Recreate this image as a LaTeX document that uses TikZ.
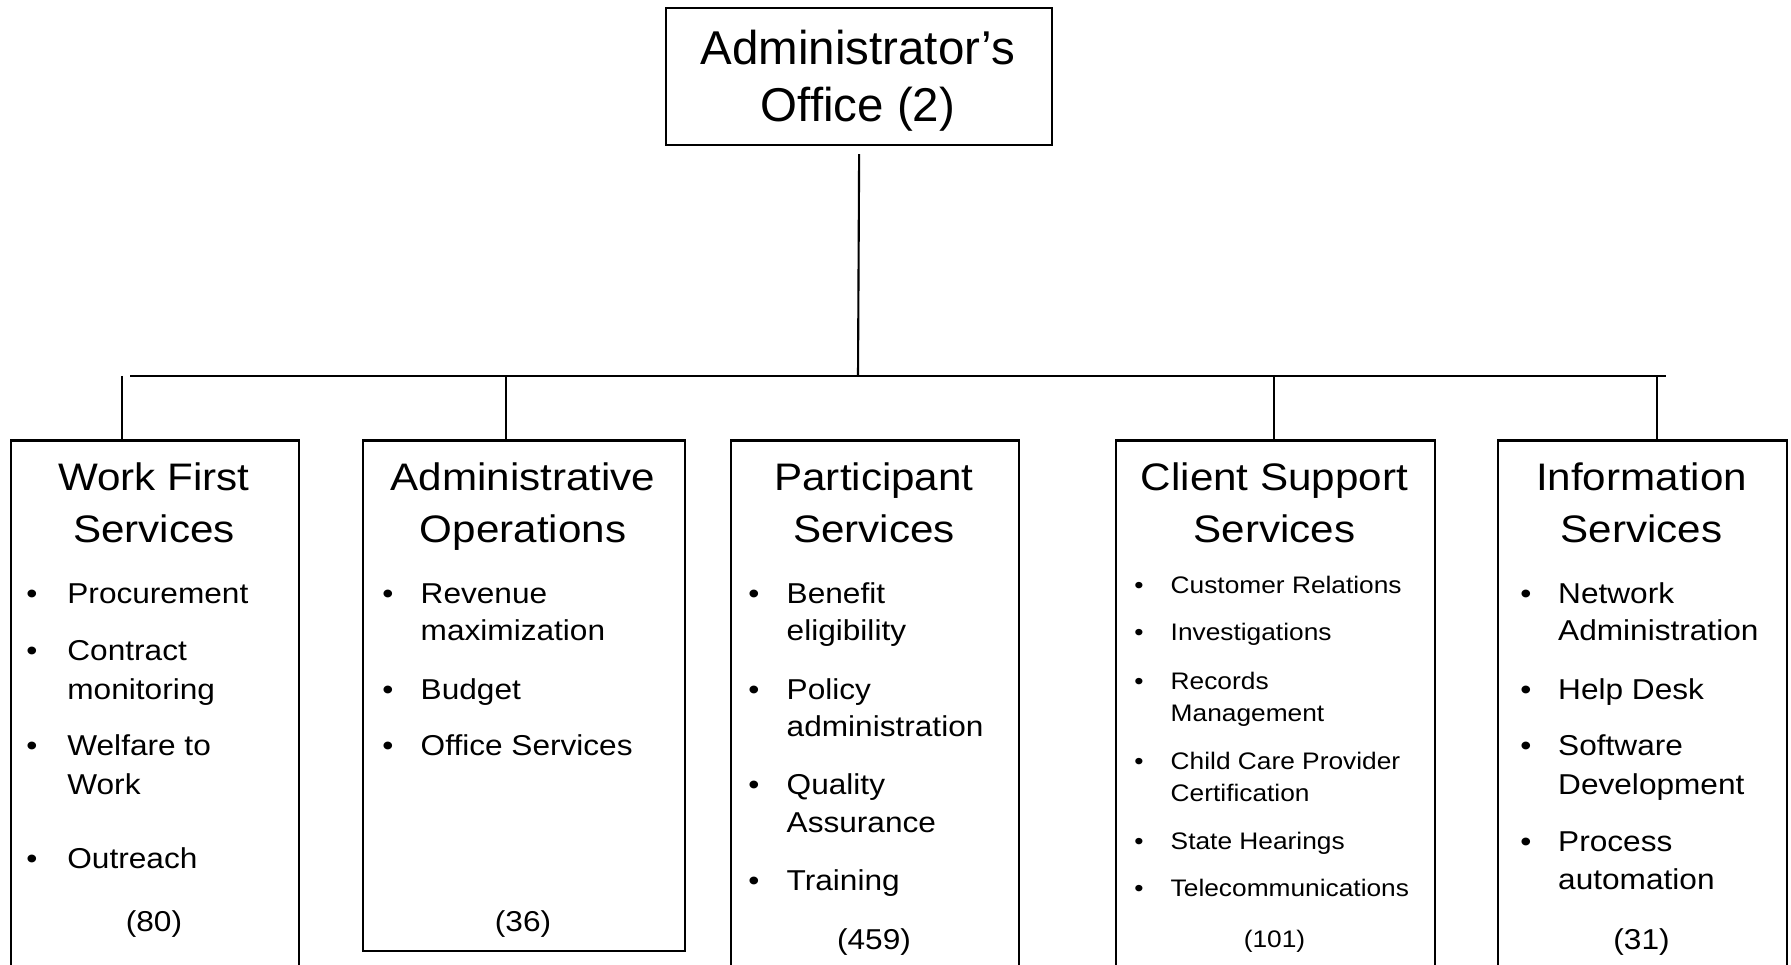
\documentclass[tikz,border=0pt]{standalone}
\usepackage{fontspec}
\setmainfont{Liberation Sans}
\newfontfamily\boxfont{Liberation Sans}[FakeStretch=1.1]

\tikzset{
  unitbox/.style={draw, line width=0.6pt, inner sep=0pt, anchor=north west},
  link/.style={line width=0.6pt},
  headtxt/.style={font=\fontsize{13.5}{16}\selectfont, anchor=base, inner sep=0pt},
  titletxt/.style={font=\boxfont\fontsize{10.9}{13}\selectfont, anchor=base, inner sep=0pt},
  itemtxt/.style={font=\boxfont\fontsize{8.17}{10}\selectfont, anchor=base west, inner sep=0pt},
  bul/.style={itemtxt, anchor=base},
  smalltxt/.style={font=\boxfont\fontsize{6.8}{8}\selectfont, anchor=base west, inner sep=0pt},
  smallbul/.style={smalltxt, anchor=base},
}

\begin{document}
\begin{tikzpicture}[x=0.01cm,y=-0.01cm]
\clip (0,0) rectangle (1791,965);

% top box
\node[unitbox, minimum width=3.86cm, minimum height=1.37cm] (admin) at (665,7) {};
\node[headtxt] (admin-1) at (858,64.5) {Administrator’s};
\node[headtxt] (admin-2) at (858,122) {Office (2)};

% unit boxes
\node[unitbox, minimum width=2.88cm, minimum height=6cm] (wfs) at (10,439.5) {};
\node[unitbox, minimum width=3.22cm, minimum height=5.105cm] (aops) at (362,439.5) {};
\node[unitbox, minimum width=2.88cm, minimum height=6cm] (psvc) at (730,439.5) {};
\node[unitbox, minimum width=3.19cm, minimum height=6cm] (css) at (1115,439.5) {};
\node[unitbox, minimum width=2.89cm, minimum height=6cm] (isvc) at (1497,439.5) {};

% connectors
\coordinate (hub) at (858,376);
\coordinate (busL) at (130,376);
\coordinate (busR) at (1666,376);
\coordinate (drop1) at (122,376);
\coordinate (drop2) at (506,376);
\coordinate (drop4) at (1274,376);
\coordinate (drop5) at (1657,376);
\draw[link, shorten <=0.08cm] (admin.south) -- (hub);
\draw[link, line width=0.7pt] (busL) -- (busR);
\draw[link] (drop1) -- (drop1 |- wfs.north);
\draw[link] (drop2) -- (drop2 |- aops.north);
\draw[link] (drop4) -- (drop4 |- css.north);
\draw[link] (drop5) -- (drop5 |- isvc.north);

% Work First Services
\node[titletxt] (wfs-t1) at (154,491) {Work First};
\node[titletxt] (wfs-t2) at (154,542.5) {Services};
\node[bul] at (32,603.5) {•};
\node[itemtxt] (wfs-1) at (66.7,603.5) {Procurement};
\node[bul] at (32,660.5) {•};
\node[itemtxt] (wfs-2) at (66.7,660.5) {Contract};
\node[itemtxt] (wfs-2b) at (66.7,699.5) {monitoring};
\node[bul] at (32,755.5) {•};
\node[itemtxt] (wfs-3) at (66.7,755.5) {Welfare to};
\node[itemtxt] (wfs-3b) at (66.7,794.5) {Work};
\node[bul] at (32,868.5) {•};
\node[itemtxt] (wfs-4) at (66.7,868.5) {Outreach};
\node[bul] (wfs-n) at (154,931.5) {(80)};

% Administrative Operations
\node[titletxt] (aops-t1) at (523,491) {Administrative};
\node[titletxt] (aops-t2) at (523,542.5) {Operations};
\node[bul] at (388,603.5) {•};
\node[itemtxt] (aops-1) at (420,603.5) {Revenue};
\node[itemtxt] (aops-1b) at (420,641) {maximization};
\node[bul] at (388,699.5) {•};
\node[itemtxt] (aops-2) at (420,699.5) {Budget};
\node[bul] at (388,755.5) {•};
\node[itemtxt] (aops-3) at (420,755.5) {Office Services};
\node[bul] (aops-n) at (523,931.5) {(36)};

% Participant Services
\node[titletxt] (psvc-t1) at (874,491) {Participant};
\node[titletxt] (psvc-t2) at (874,542.5) {Services};
\node[bul] at (754,603.5) {•};
\node[itemtxt] (psvc-1) at (786,603.5) {Benefit};
\node[itemtxt] (psvc-1b) at (786,641) {eligibility};
\node[bul] at (754,699.5) {•};
\node[itemtxt] (psvc-2) at (786,699.5) {Policy};
\node[itemtxt] (psvc-2b) at (786,737) {administration};
\node[bul] at (754,795) {•};
\node[itemtxt] (psvc-3) at (786,795) {Quality};
\node[itemtxt] (psvc-3b) at (786,833) {Assurance};
\node[bul] at (754,891) {•};
\node[itemtxt] (psvc-4) at (786,891) {Training};
\node[bul] (psvc-n) at (874,949.5) {(459)};

% Client Support Services
\node[titletxt] (css-t1) at (1274.5,491) {Client Support};
\node[titletxt] (css-t2) at (1274.5,542.5) {Services};
\node[smallbul] at (1139,594) {•};
\node[smalltxt] (css-1) at (1170,594) {Customer Relations};
\node[smallbul] at (1139,641) {•};
\node[smalltxt] (css-2) at (1170,641) {Investigations};
\node[smallbul] at (1139,689.5) {•};
\node[smalltxt] (css-3) at (1170,689.5) {Records};
\node[smalltxt] (css-3b) at (1170,722) {Management};
\node[smallbul] at (1139,769.5) {•};
\node[smalltxt] (css-4) at (1170,769.5) {Child Care Provider};
\node[smalltxt] (css-4b) at (1170,801.5) {Certification};
\node[smallbul] at (1139,849.5) {•};
\node[smalltxt] (css-5) at (1170,849.5) {State Hearings};
\node[smallbul] at (1139,897) {•};
\node[smalltxt] (css-6) at (1170,897) {Telecommunications};
\node[smallbul] (css-n) at (1274.5,948) {(101)};

% Information Services
\node[titletxt] (isvc-t1) at (1641.5,491) {Information};
\node[titletxt] (isvc-t2) at (1641.5,542.5) {Services};
\node[bul] at (1526,603.5) {•};
\node[itemtxt] (isvc-1) at (1557.5,603.5) {Network};
\node[itemtxt] (isvc-1b) at (1557.5,641) {Administration};
\node[bul] at (1526,699.5) {•};
\node[itemtxt] (isvc-2) at (1557.5,699.5) {Help Desk};
\node[bul] at (1526,755.5) {•};
\node[itemtxt] (isvc-3) at (1557.5,755.5) {Software};
\node[itemtxt] (isvc-3b) at (1557.5,794.5) {Development};
\node[bul] at (1526,852) {•};
\node[itemtxt] (isvc-4) at (1557.5,852) {Process};
\node[itemtxt] (isvc-4b) at (1557.5,890) {automation};
\node[bul] (isvc-n) at (1641.5,949.5) {(31)};

\end{tikzpicture}
\end{document}
